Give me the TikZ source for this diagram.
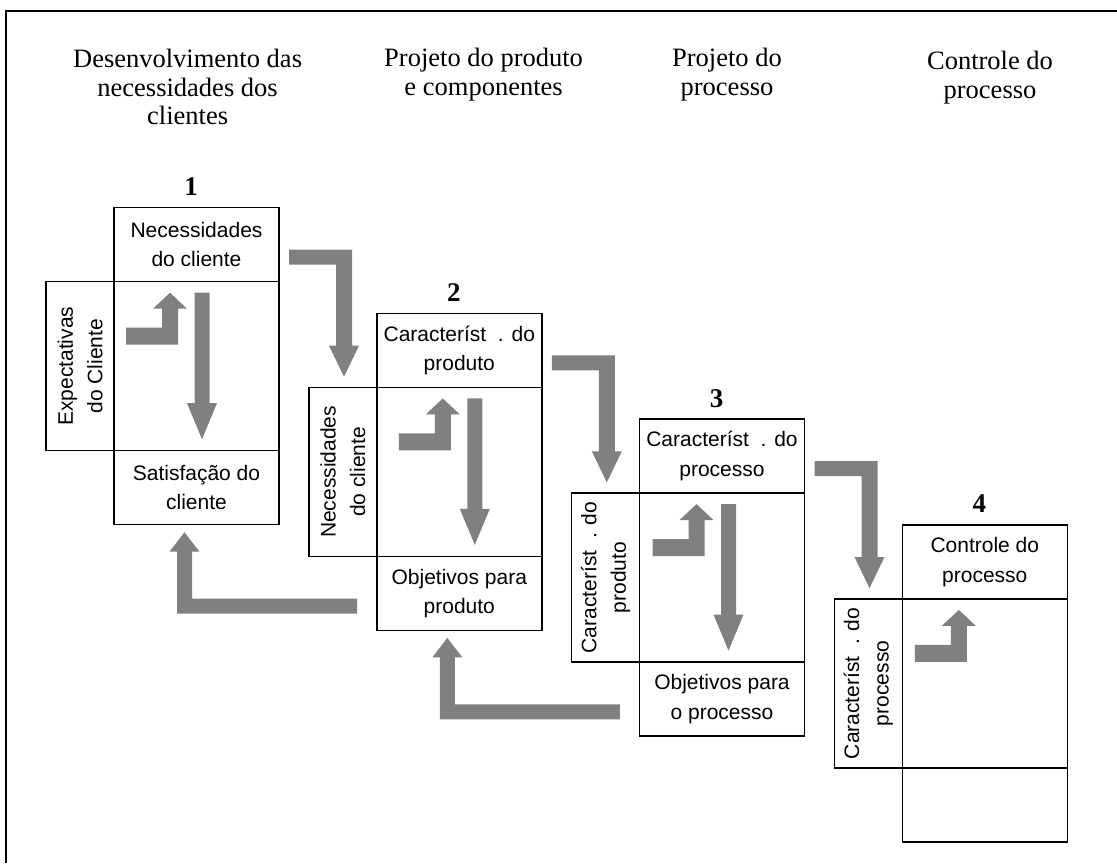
\documentclass[tikz,border=0pt]{standalone}
\usepackage{fontspec}
\setmainfont{Liberation Serif}
\setsansfont{Liberation Sans}
\usetikzlibrary{calc}
\definecolor{arrowgray}{HTML}{808080}
\newcommand\cgap{\hspace{0.556em}}
\tikzset{
  sect/.style={draw=black, line width=1.5pt, minimum width=165pt, inner sep=0pt, outer sep=0pt,
    align=center, font=\sffamily\fontsize{21}{29.5}\selectfont},
  tabsect/.style={sect, minimum width=169pt, minimum height=68pt, rotate=90},
  blockarrow/.style={fill=arrowgray, draw=none},
  header/.style={font=\rmfamily\fontsize{26.5}{28.5}\selectfont, align=center, inner sep=0pt, anchor=north},
  stagenum/.style={font=\rmfamily\bfseries\fontsize{27}{27}\selectfont, inner sep=0pt, anchor=base},
}
% #1 name, #2 X, #3 Y, #4 top text, #5 tab text, #6 bottom text, #7 number, #8 shift of inner arrows
\newcommand\qfdstage[8]{%
  \node[sect, minimum height=74pt, anchor=north west] (#1top) at (#2,#3) {#4};
  \node[sect, minimum height=169pt, anchor=north west] (#1mid) at (#1top.south west) {};
  \node[sect, minimum height=74pt, anchor=north west] (#1bot) at (#1mid.south west) {#6};
  \node[tabsect] (#1tab) at ($(#1mid.west)+(-34,0)$) {#5};
  \node[stagenum] (#1num) at ($(#1top.north west)+(77,-12)$) {#7};
  \begin{scope}[shift={($(#1top.north west)+(#8,0)$)}]
    \fill[blockarrow] (12,120) -- (48,120) -- (48,101) -- (39,101) -- (56,85) -- (73,101)
      -- (64,101) -- (64,137) -- (12,137) -- cycle;
  \end{scope}%
}
% long downward arrow inside a stage
\newcommand\qfdlong[2]{%
  \begin{scope}[shift={($(#1top.north west)+(#2,0)$)}]
    \fill[blockarrow] (80.5,85) -- (95.5,85) -- (95.5,195.5) -- (103,195.5) -- (88,231.5)
      -- (73,195.5) -- (80.5,195.5) -- cycle;
  \end{scope}%
}
% connector from one stage to the next
\newcommand\qfdnext[1]{%
  \begin{scope}[shift={(#1top.north west)}]
    \fill[blockarrow] (175,42) -- (238,42) -- (238,138) -- (245,138) -- (230,169) -- (215,138)
      -- (222,138) -- (222,57) -- (175,57) -- cycle;
  \end{scope}%
}
% feedback from the next stage back to this one
\newcommand\qfdback[1]{%
  \begin{scope}[shift={(#1top.north west)}]
    \fill[blockarrow] (70.5,324.5) -- (85.5,344) -- (78,344) -- (78,391) -- (243,391)
      -- (243,406) -- (63,406) -- (63,344) -- (55.5,344) -- cycle;
  \end{scope}%
}
\begin{document}
\begin{tikzpicture}[x=1pt,y=-1pt]
  \useasboundingbox (0,0) rectangle (1117,863);
  \draw[line width=2.3pt] (6.2,863) -- (6.2,11.2) -- (1117,11.2);

  \node[header] (h1) at (187.6,49) {Desenvolvimento das\\necessidades dos\\clientes};
  \node[header] (h2) at (483.6,48) {Projeto do produto\\e componentes};
  \node[header] (h3) at (727,48) {Projeto do\\processo};
  \node[header] (h4) at (990,51) {Controle do\\processo};

  \qfdstage{s1}{114}{207.7}{Necessidades\\do cliente}{Expectativas\\do Cliente}{Satisfação do\\cliente}{1}{0}
  \qfdstage{s2}{376.8}{313.4}{Característ\cgap. do\\produto}{Necessidades\\do cliente}{Objetivos para\\produto}{2}{10}
  \qfdstage{s3}{639.5}{419.1}{Característ\cgap. do\\processo}{Característ\cgap. do\\produto}{Objetivos para\\o processo}{3}{1}
  \qfdstage{s4}{902.3}{524.9}{Controle do\\processo}{Característ\cgap. do\\processo}{}{4}{0.5}

  \qfdlong{s1}{0}
  \qfdlong{s2}{10}
  \qfdlong{s3}{1}

  \qfdnext{s1}
  \qfdnext{s2}
  \qfdnext{s3}

  \qfdback{s1}
  \qfdback{s2}
\end{tikzpicture}
\end{document}
